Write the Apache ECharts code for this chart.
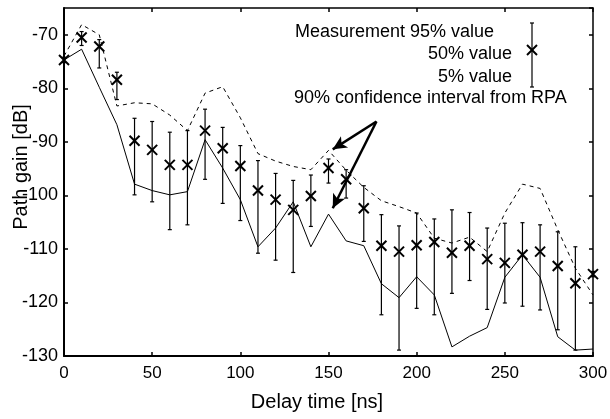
<!DOCTYPE html>
<html>
<head>
<meta charset="utf-8">
<script src="https://cdn.jsdelivr.net/npm/echarts@6/dist/echarts.min.js"></script>
<style>
  html, body { margin: 0; padding: 0; background: #fff; }
  #main { width: 610px; height: 419px; }
</style>
</head>
<body>
<div id="main"></div>
<script>
var delay = [0, 10, 20, 30, 40, 50, 60, 70, 80, 90, 100, 110, 120, 130, 140, 150,
  160, 170, 180, 190, 200, 210, 220, 230, 240, 250, 260, 270, 280, 290, 300];

// measurement: median (50%), 95% and 5% values
var median = [-74.7, -70.5, -72.2, -78.4, -89.8, -91.5, -94.3, -94.3, -87.9, -91.2, -94.5,
  -99.1, -100.8, -102.7, -100.1, -94.9, -97.0, -102.4, -109.4, -110.5, -109.3, -108.7,
  -110.7, -109.4, -111.9, -112.6, -111.1, -110.5, -113.2, -116.4, -114.7];
var p95 = [-74.2, -69.4, -70.9, -77.0, -85.6, -86.2, -88.2, -87.9, -83.9, -87.3, -90.7,
  -93.5, -95.9, -97.2, -96.2, -93.2, -95.2, -98.2, -103.6, -105.7, -103.3, -104.4,
  -102.7, -103.2, -106.1, -105.2, -105.1, -105.5, -106.8, -109.6, -114.2];
var p5 = [-75.2, -72.0, -76.2, -82.1, -99.9, -101.2, -106.4, -105.5, -97.0, -101.5, -104.7,
  -110.8, -112.1, -114.4, -105.8, -97.7, -100.5, -108.6, -122.3, -128.9, -121.1, -122.3,
  -118.3, -115.9, -121.3, -120.1, -120.7, -121.4, -125.1, -128.9, -115.2];

// RPA 90% confidence interval
var rpaLow = [-74.7, -72.7, -79.8, -86.8, -97.9, -99.1, -99.9, -99.3, -89.6, -94.9, -100.8,
  -109.6, -106.1, -101.2, -109.6, -103.5, -108.5, -109.4, -116.5, -119.1, -115.2, -118.6,
  -128.3, -126.3, -124.7, -115.3, -111.1, -115.3, -126.4, -128.9, -128.7];
var rpaHigh = [-74.0, -68.1, -70.0, -83.3, -82.7, -82.9, -85.0, -87.9, -80.9, -79.7, -85.5,
  -92.2, -93.6, -94.6, -95.2, -91.6, -95.3, -98.5, -101.0, -102.1, -103.3, -108.0,
  -108.9, -107.8, -110.5, -103.3, -97.9, -98.7, -106.4, -113.6, -118.6];

var font = "'Liberation Sans', Arial, sans-serif";

var chart = echarts.init(document.getElementById('main'));

function pairs(ys) {
  return delay.map(function (d, i) { return [d, ys[i]]; });
}

var measData = delay.map(function (d, i) {
  return [d, p95[i], p5[i], median[i]];
});

function renderErrorBar(params, api) {
  var x = api.value(0);
  var hi = api.coord([x, api.value(1)]);
  var lo = api.coord([x, api.value(2)]);
  var mid = api.coord([x, api.value(3)]);
  var cap = 2, s = 5;
  var thin = { stroke: '#000', lineWidth: 1.2 };
  var bold = { stroke: '#000', lineWidth: 2 };
  return {
    type: 'group',
    children: [
      { type: 'line', shape: { x1: hi[0], y1: hi[1], x2: lo[0], y2: lo[1] }, style: thin },
      { type: 'line', shape: { x1: hi[0] - cap, y1: hi[1], x2: hi[0] + cap, y2: hi[1] }, style: thin },
      { type: 'line', shape: { x1: lo[0] - cap, y1: lo[1], x2: lo[0] + cap, y2: lo[1] }, style: thin },
      { type: 'line', shape: { x1: mid[0] - s, y1: mid[1] - s, x2: mid[0] + s, y2: mid[1] + s }, style: bold },
      { type: 'line', shape: { x1: mid[0] - s, y1: mid[1] + s, x2: mid[0] + s, y2: mid[1] - s }, style: bold }
    ]
  };
}

var option = {
  animation: false,
  backgroundColor: '#fff',
  textStyle: { fontFamily: font, color: '#000' },
  grid: { left: 64, right: 17, top: 8, bottom: 63, containLabel: false, outerBoundsMode: 'none' },
  xAxis: [{
    type: 'value', min: 0, max: 300, interval: 50,
    axisLine: { onZero: false, lineStyle: { color: '#000', width: 2 } },
    axisTick: { inside: true, length: 4, lineStyle: { color: '#000', width: 1.5 } },
    axisLabel: { color: '#000', fontSize: 17, fontFamily: font, margin: 9 },
    splitLine: { show: false }
  }, {
    type: 'value', min: 0, max: 300, interval: 50, position: 'top',
    axisLine: { onZero: false, lineStyle: { color: '#000', width: 1.5 } },
    axisTick: { inside: true, length: 4, lineStyle: { color: '#000', width: 1.5 } },
    axisLabel: { show: false },
    splitLine: { show: false }
  }],
  yAxis: [{
    type: 'value', min: -130, max: -65, interval: 10,
    axisLine: { show: true, onZero: false, lineStyle: { color: '#000', width: 2 } },
    axisTick: { show: true, inside: true, length: 4, lineStyle: { color: '#000', width: 1.5 } },
    axisLabel: {
      color: '#000', fontSize: 18, fontFamily: font, margin: 6, showMaxLabel: false,
      formatter: function (v) { return v === -65 ? '' : String(v); }
    },
    splitLine: { show: false }
  }, {
    type: 'value', min: -130, max: -65, interval: 10, position: 'right',
    axisLine: { show: true, onZero: false, lineStyle: { color: '#000', width: 1.5 } },
    axisTick: { show: true, inside: true, length: 4, lineStyle: { color: '#000', width: 1.5 } },
    axisLabel: { show: false },
    splitLine: { show: false }
  }],
  series: [{
    name: 'RPA low',
    type: 'line',
    data: pairs(rpaLow),
    symbol: 'none',
    lineStyle: { color: '#000', width: 1 },
    z: 2
  }, {
    name: 'RPA high',
    type: 'line',
    data: pairs(rpaHigh),
    symbol: 'none',
    lineStyle: { color: '#000', width: 1, type: [4, 4] },
    z: 2,
    markLine: {
      silent: true,
      symbol: ['none', 'arrow'],
      symbolSize: [10, 14],
      label: { show: false },
      lineStyle: { color: '#000', width: 2.5, type: 'solid' },
      data: [
        [{ coord: [177.2, -86.2] }, { coord: [152.4, -91.4] }],
        [{ coord: [177.2, -86.2] }, { coord: [152.4, -102.4] }]
      ]
    }
  }, {
    name: 'Measurement',
    type: 'custom',
    data: measData,
    encode: { x: 0, y: [1, 2, 3] },
    renderItem: renderErrorBar,
    clip: false,
    z: 3
  }],
  graphic: [
    { type: 'text', left: 295, top: 23, style: { text: 'Measurement 95% value', font: '18px ' + font, fill: '#000' } },
    { type: 'text', right: 98, top: 45, style: { text: '50% value', font: '18px ' + font, fill: '#000' } },
    { type: 'text', right: 98, top: 68, style: { text: '5% value', font: '18px ' + font, fill: '#000' } },
    { type: 'text', left: 294, top: 89, style: { text: '90% confidence interval from RPA', font: '18px ' + font, fill: '#000' } },
    { type: 'line', shape: { x1: 532, y1: 23, x2: 532, y2: 87 }, style: { stroke: '#000', lineWidth: 1.2 } },
    { type: 'line', shape: { x1: 530, y1: 23, x2: 534, y2: 23 }, style: { stroke: '#000', lineWidth: 1.2 } },
    { type: 'line', shape: { x1: 530, y1: 87, x2: 534, y2: 87 }, style: { stroke: '#000', lineWidth: 1.2 } },
    { type: 'line', shape: { x1: 527, y1: 45, x2: 537, y2: 55 }, style: { stroke: '#000', lineWidth: 2 } },
    { type: 'line', shape: { x1: 527, y1: 55, x2: 537, y2: 45 }, style: { stroke: '#000', lineWidth: 2 } },
    {
      type: 'text', x: 21, y: 167, rotation: Math.PI / 2,
      style: { text: 'Path gain [dB]', font: '20px ' + font, fill: '#000', align: 'center', verticalAlign: 'middle' }
    },
    {
      type: 'text', x: 317, y: 402,
      style: { text: 'Delay time [ns]', font: '20px ' + font, fill: '#000', align: 'center', verticalAlign: 'middle' }
    }
  ]
};

chart.setOption(option);
</script>
</body>
</html>
